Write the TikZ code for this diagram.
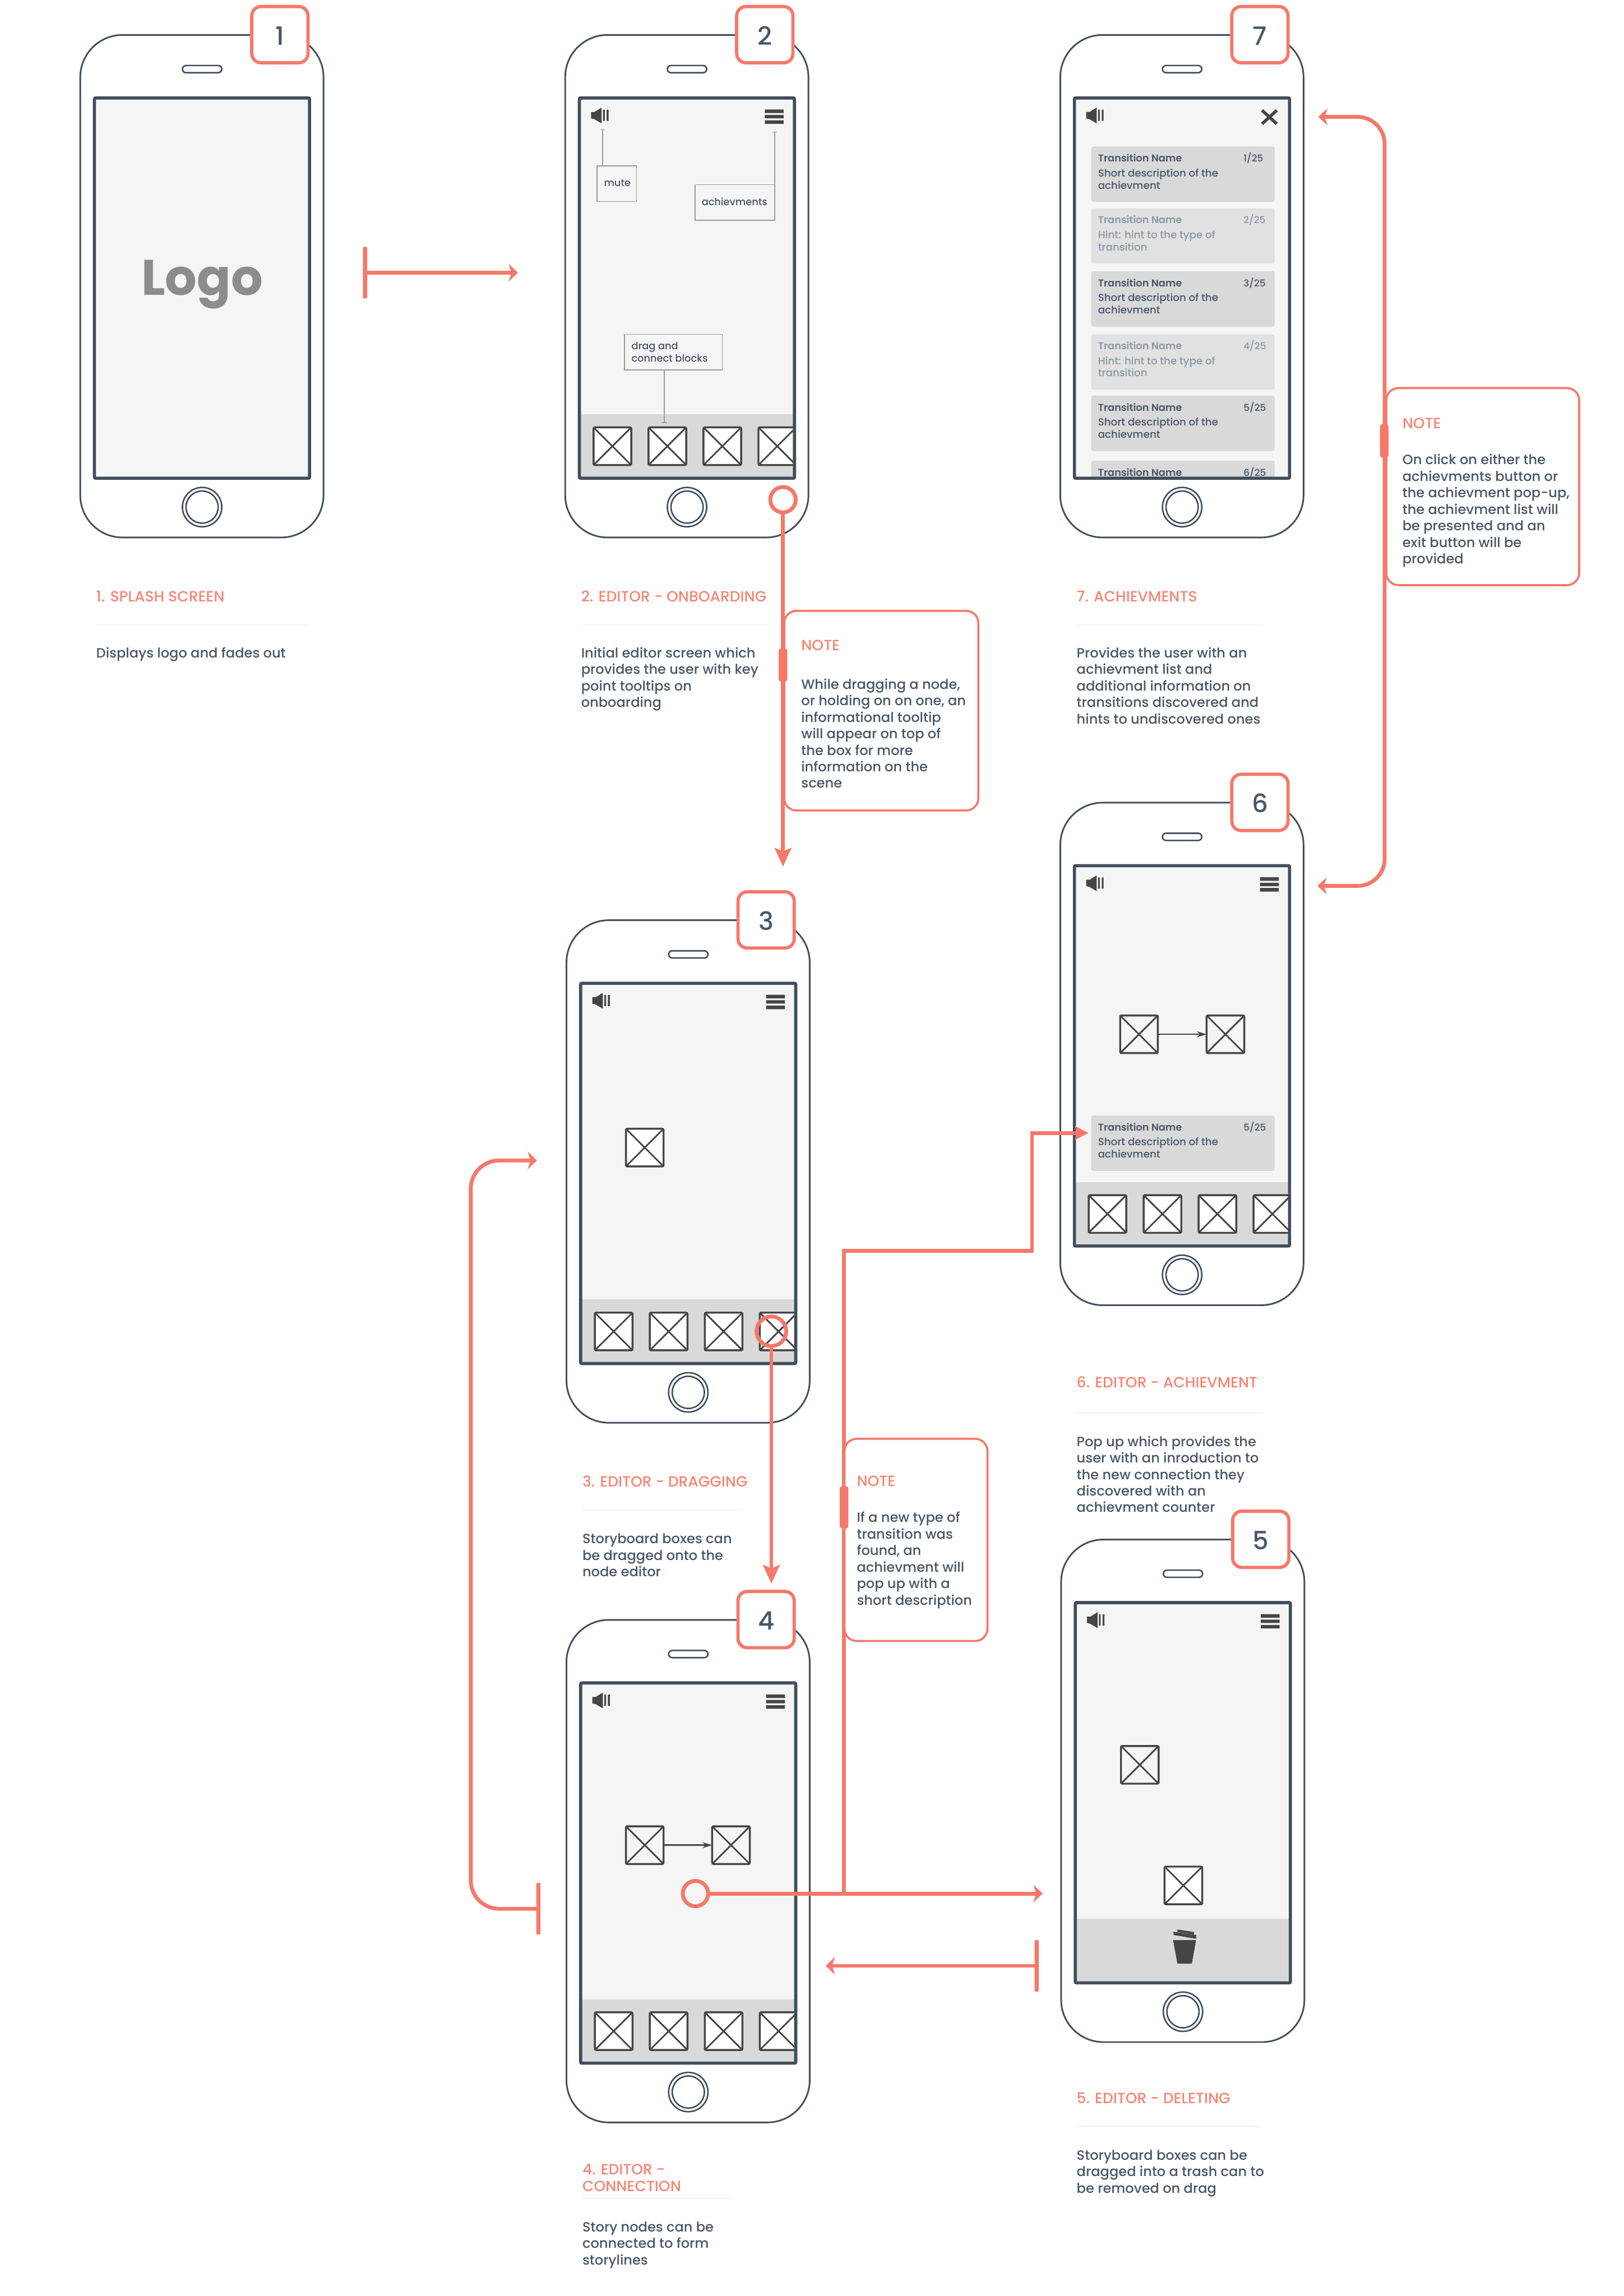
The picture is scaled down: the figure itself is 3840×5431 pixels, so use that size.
\documentclass[tikz,border=0pt]{standalone}
\usepackage{fontspec}
\setmainfont{Poppins Medium}[BoldFont={Poppins SemiBold}]
\newfontfamily\logofont{Poppins Bold}
\usetikzlibrary{arrows.meta, positioning, calc}
\definecolor{mSalmon}{HTML}{F6786A}
\definecolor{mTitle}{HTML}{F98472}
\definecolor{mSlate}{HTML}{424D5B}
\definecolor{mText}{HTML}{4A5666}
\definecolor{mHint}{HTML}{8D98A3}
\definecolor{mIcon}{HTML}{454545}
\definecolor{mScreen}{HTML}{F5F5F5}
\definecolor{mTray}{HTML}{D9D9D9}
\definecolor{mTrayLight}{HTML}{E1E1E1}
\definecolor{mRule}{HTML}{F1F5F9}
\definecolor{mLeader}{HTML}{9A9A9A}
\tikzset{
  phonebody/.style={draw=mSlate, line width=1.1pt, rounded corners=1cm, fill=white,
                    minimum width=5.75cm, minimum height=11.88cm, inner sep=0pt, outer sep=0pt},
  phonescreen/.style={fill=mScreen, minimum width=5.085cm, minimum height=8.99cm, inner sep=0pt, outer sep=0pt},
  phoneframe/.style={draw=mSlate, line width=2.1pt, rounded corners=0.03cm,
                     minimum width=5.085cm, minimum height=8.99cm, inner sep=0pt, outer sep=0pt},
  earpiece/.style={draw=mSlate, line width=1pt, rounded corners=0.085cm, minimum width=0.93cm,
                   minimum height=0.17cm, inner sep=0pt},
  homering/.style={draw=mSlate, line width=1pt, circle, inner sep=0pt},
  badge/.style={draw=mSalmon, line width=2.2pt, fill=white, rounded corners=0.22cm, minimum size=1.33cm,
                inner sep=0pt, text=mText, text height=13.8pt, text depth=0pt, font=\fontsize{17}{20}\selectfont},
  wirebox/.style={draw=mIcon, line width=1.3pt, rounded corners=0.03cm, minimum size=0.89cm,
                  inner sep=0pt, outer sep=0pt},
  wirecross/.style={draw=mIcon, line width=1.1pt},
  linkarrow/.style={mIcon, line width=1pt, -{Stealth[length=2.3mm, width=1.4mm]}},
  flow/.style={mSalmon, line width=2.6pt},
  bigtip/.style={-{Stealth[length=4.4mm, width=3.9mm, inset=0.8mm]}},
  smalltip/.style={-{Stealth[length=2.2mm, width=4.2mm, inset=0.7mm]}},
  midtip/.style={-{Stealth[length=3.2mm, width=3.2mm, inset=0.5mm]}},
  tbar/.style={fill=mSalmon, rounded corners=0.02cm, minimum width=0.1cm, inner sep=0pt, outer sep=0pt},
  hotspot/.style={draw=mSalmon, line width=2.6pt, circle, minimum size=0.6cm, inner sep=0pt, outer sep=0pt},
  notebox/.style={draw=mSalmon, line width=1.4pt, fill=white, rounded corners=0.29cm, inner sep=0pt, outer sep=0pt},
  notetab/.style={fill=mSalmon, rounded corners=0.05cm, minimum width=0.2cm, inner sep=0pt, outer sep=0pt},
  bodytxt/.style={anchor=north west, align=left, inner sep=0pt, text=mText,
                  font=\fontsize{9.1}{11.1}\selectfont},
  titletxt/.style={anchor=north west, align=left, inner sep=0pt, text=mTitle,
                   font=\fontsize{10}{11.1}\selectfont},
  rulerline/.style={mRule, line width=0.9pt},
  tipbox/.style={draw=mLeader, line width=0.6pt, fill=mScreen, inner sep=0pt, outer sep=0pt},
  tiptxt/.style={anchor=north west, align=left, inner sep=0pt, text=mText, font=\fontsize{6.7}{8.3}\selectfont},
  leader/.style={mLeader, line width=0.6pt, {Bar[width=1mm]}-},
  achrowdark/.style={fill=mTray, rounded corners=0.05cm, minimum width=4.335cm, minimum height=1.31cm,
                     inner sep=0pt, anchor=north west},
  achrowhint/.style={achrowdark, fill=mTrayLight},
  rowhead/.style={anchor=base west, inner sep=0pt, font=\fontsize{6.7}{7}\selectfont\bfseries},
  rowline/.style={anchor=base west, inner sep=0pt, font=\fontsize{6.9}{7}\selectfont},
  rownum/.style={anchor=base west, inner sep=0pt, font=\fontsize{6.4}{7}\selectfont},
}
% one phone: name, left, top, number, screen content
\newcommand{\phone}[5]{
  \begin{scope}[shift={(#2,#3)}]
    \node[phonebody] (#1body) at (287.5,594) {};
    \node[earpiece] (#1ear) at (288,80.5) {};
    \node[homering, minimum size=0.93cm] (#1home) at (288,1116.5) {};
    \node[homering, minimum size=0.76cm] (#1homein) at (288,1116.5) {};
    \node[phonescreen] (#1screen) at (287.75,598.5) {};
    \begin{scope}
      \clip (33.5,149) rectangle (542,1048);
      #5
    \end{scope}
    \node[phoneframe] (#1frame) at (287.75,598.5) {};
    \node[badge] (#1badge) at (472,-1) {#4};
  \end{scope}
}
\newcommand{\spkicon}{
  \fill[mIcon] (61,182) -- (69,182) -- (86,171.5) -- (86,209) -- (69,199) -- (61,197) -- cycle;
  \fill[mIcon] (89.3,176.5) rectangle (93.4,203) (97.8,176.5) rectangle (102.3,203);
}
\newcommand{\menuicon}{
  \fill[mIcon] (472,176) rectangle (516.6,184.5) (472,189) rectangle (516.6,197) (472,201.5) rectangle (516.6,210);
}
\newcommand{\imgbox}[4]{
  \node[wirebox, fill=#4] (#1) at (#2,#3) {};
  \draw[wirecross] (#1.north west) -- (#1.south east) (#1.north east) -- (#1.south west);
}
\newcommand{\boxtray}[1]{
  \fill[mTray] (33.5,897) rectangle (542,1048);
  \foreach \i in {0,1,2,3} {
    \imgbox{#1tray\i}{111.5+130*\i}{972.5}{white}
  }
}
\newcommand{\achrow}[7]{
  \node[achrow#3] (#1) at (72.5,#2) {};
  \node[rowhead, text=#4] (#1head) at ($(#1.north west)+(16,37)$) {Transition Name};
  \node[rownum, text=#4] (#1num) at ($(#1.north west)+(360,37)$) {#5};
  \node[rowline, text=#4] (#1la) at ($(#1.north west)+(16,72)$) {#6};
  \node[rowline, text=#4] (#1lb) at ($(#1.north west)+(16,101)$) {#7};
}
\newcommand{\screenlabel}[7]{
  \node[titletxt] (#1title) at (#2,#3+4) {\strut#6};
  \draw[rulerline] (#2,#4) -- (#5,#4);
  \node[bodytxt] (#1text) at (#2,#4+51) {\strut#7};
}
\begin{document}
\begin{tikzpicture}[x=0.01cm, y=-0.01cm]
  \useasboundingbox (0,0) rectangle (3840,5431);

  \phone{pa}{190}{83}{1}{
    \node[anchor=base, inner sep=0pt, text=black!45, font=\fontsize{33.6}{36}\logofont] (logo) at (288,615) {Logo};
  }
  \phone{pb}{1337}{83}{2}{
    \spkicon \menuicon \boxtray{pb}
    \node[tipbox, minimum width=0.93cm, minimum height=0.84cm] (mutebox) at (122,351.5) {};
    \node[tiptxt] (mutetxt) at (91,337) {\strut mute};
    \node[tipbox, minimum width=1.89cm, minimum height=0.84cm] (achbox) at (401.5,396) {};
    \node[tiptxt] (achtxt) at (322,382) {\strut achievments};
    \node[tipbox, minimum width=2.31cm, minimum height=0.84cm] (dragbox) at (256,750) {};
    \node[tiptxt] (dragtxt) at (156,723) {\strut drag and\\ connect blocks};
    \coordinate (mutetip) at (88.5,223);
    \coordinate (achtip) at (495.5,228);
    \coordinate (dragtip) at (234.5,918);
    \draw[leader] (mutetip) -- (mutetip |- mutebox.north);
    \draw[leader] (achtip) -- (achtip |- achbox.south);
    \draw[leader] (dragtip) -- (dragtip |- dragbox.south);
  }
  \phone{pc}{1340}{2177}{3}{
    \spkicon \menuicon \boxtray{pc}
    \imgbox{pcdrag}{185}{537.5}{white}
  }
  \phone{pd}{1340}{3832}{4}{
    \spkicon \menuicon \boxtray{pd}
    \imgbox{pdfrom}{185}{532.5}{mScreen}
    \imgbox{pdto}{389}{532.5}{mScreen}
    \draw[linkarrow] (pdfrom) -- (pdto);
  }
  \phone{pe}{2510}{3642}{5}{
    \spkicon \menuicon
    \fill[mTray] (33.5,896) rectangle (542,1048);
    \imgbox{pefree}{186}{532.5}{mScreen}
    \imgbox{pedrop}{289}{817.8}{white}
    \fill[mIcon] (264.5,947) -- (319,947) -- (309,1003) -- (275,1003) -- cycle;
    \fill[mIcon] (265.4,927.4) -- (319.5,935) -- (319,944) -- (266,935) -- cycle;
    \fill[mIcon] (275,922) -- (314,928) -- (314,934) -- (275,928) -- cycle;
  }
  \phone{pf}{2508}{1899}{6}{
    \spkicon \menuicon \boxtray{pf}
    \imgbox{pffrom}{186}{547.5}{mScreen}
    \imgbox{pfto}{390.5}{547.5}{mScreen}
    \draw[linkarrow] (pffrom) -- (pfto);
    \achrow{pfrow}{739}{dark}{mText}{5/25}{Short description of the}{achievment}
  }
  \phone{pg}{2508}{83}{7}{
    \spkicon
    \draw[mIcon, line width=2.1pt] (477,178) -- (512,210) (512,178) -- (477,210);
    \achrow{rowa}{263}{dark}{mText}{1/25}{Short description of the}{achievment}
    \achrow{rowb}{409}{hint}{mHint}{2/25}{Hint: hint to the type of}{transition}
    \achrow{rowc}{558}{dark}{mText}{3/25}{Short description of the}{achievment}
    \achrow{rowd}{707}{hint}{mHint}{4/25}{Hint: hint to the type of}{transition}
    \achrow{rowe}{852}{dark}{mText}{5/25}{Short description of the}{achievment}
    \achrow{rowf}{1006}{dark}{mText}{6/25}{Short description of the}{achievment}
  }

  \screenlabel{la}{227}{1391}{1477}{729}{1. SPLASH SCREEN}{Displays logo and fades out}
  \screenlabel{lb}{1374}{1391}{1477}{1812}{2. EDITOR - ONBOARDING}{Initial editor screen which\\ provides the user with key\\ point tooltips on\\ onboarding}
  \screenlabel{lc}{1377}{3485}{3572}{1756}{3. EDITOR - DRAGGING}{Storyboard boxes can\\ be dragged onto the\\ node editor}
  \screenlabel{ld}{1377}{5112}{5200}{1729}{4. EDITOR -\\ CONNECTION}{Story nodes can be\\ connected to form\\ storylines}
  \screenlabel{le}{2546}{4944}{5030}{2984}{5. EDITOR - DELETING}{Storyboard boxes can be\\ dragged into a trash can to\\ be removed on drag}
  \screenlabel{lf}{2546}{3250}{3342}{2985}{6. EDITOR - ACHIEVMENT}{Pop up which provides the\\ user with an inroduction to\\ the new connection they\\ discovered with an\\ achievment counter}
  \screenlabel{lg}{2546}{1391}{1477}{2985}{7. ACHIEVMENTS}{Provides the user with an\\ achievment list and\\ additional information on\\ transitions discovered and\\ hints to undiscovered ones}

  % splash to editor
  \node[tbar, minimum height=1.22cm] (barone) at (863.5,645) {};
  \coordinate (tipone) at (1225,645);
  \draw[flow, smalltip] (barone) -- (tipone);

  % editor to dragging
  \node[hotspot] (hotb) at (1852,1182) {};
  \coordinate (tipb) at (1852,2050);
  \draw[flow, bigtip] (hotb) -- (tipb);

  % dragging to connection
  \node[hotspot, minimum size=0.7cm] (hotc) at (1824.5,3149) {};
  \coordinate (tipc) at (1824.5,3746);
  \draw[flow, bigtip] (hotc) -- (tipc);

  % back from connection
  \node[tbar, minimum height=1.22cm] (bard) at (1273.5,4515) {};
  \coordinate (tipd) at (1270,2745);
  \coordinate (turnd) at (1113.5,3600);
  \draw[flow, smalltip, rounded corners=0.67cm] (bard) -- (bard -| turnd) -- (turnd |- tipd) -- (tipd);

  % connection to deleting, and the branch to the pop up
  \node[hotspot] (hotd) at (1645,4479) {};
  \coordinate (tipe) at (2466,4479);
  \draw[flow, smalltip] (hotd) -- (tipe);
  \coordinate (forkf) at (1996.5,4479);
  \coordinate (kneef) at (2441,2959);
  \coordinate (tipf) at (2574.5,2680);
  \draw[flow, midtip] (forkf) -- (forkf |- kneef) -- (kneef) -- (kneef |- tipf) -- (tipf);

  % deleting back to connection
  \node[tbar, minimum height=1.22cm] (bare) at (2452,4650) {};
  \coordinate (tipg) at (1953,4650);
  \draw[flow, smalltip] (bare) -- (tipg);

  % pop up and achievements
  \coordinate (tiph) at (3118,276.5);
  \coordinate (tipi) at (3116,2095.5);
  \coordinate (turnh) at (3275,1200);
  \draw[flow, {Stealth[length=2.2mm, width=4mm, inset=0.7mm]}-{Stealth[length=2.2mm, width=4mm, inset=0.7mm]}, rounded corners=0.64cm]
    (tiph) -- (tiph -| turnh) -- (turnh |- tipi) -- (tipi);

  % notes
  \node[notebox, minimum width=4.59cm, minimum height=4.72cm] (notea) at (2084.5,1681) {};
  \node[notetab, minimum height=0.78cm] (notetaba) at (1852,1573) {};
  \node[titletxt] (noteatitle) at (1894.5,1511) {\strut NOTE};
  \node[bodytxt] (noteatext) at (1894.5,1602) {\strut While dragging a node,\\ or holding on on one, an\\ informational tooltip\\ will appear on top of\\ the box for more\\ information on the\\ scene};

  \node[notebox, minimum width=3.38cm, minimum height=4.78cm] (noteb) at (2166.5,3642.5) {};
  \node[notetab, minimum height=1cm] (notetabb) at (1996.5,3565.5) {};
  \node[titletxt] (notebtitle) at (2026,3487) {\strut NOTE};
  \node[bodytxt] (notebtext) at (2026,3573) {\strut If a new type of\\ transition was\\ found, an\\ achievment will\\ pop up with a\\ short description};

  \node[notebox, minimum width=4.56cm, minimum height=4.66cm] (notec) at (3507,1151) {};
  \node[notetab, minimum height=0.79cm] (notetabc) at (3274,1043) {};
  \node[titletxt] (notectitle) at (3316.5,985) {\strut NOTE};
  \node[bodytxt] (notectext) at (3316.5,1071) {\strut On click on either the\\ achievments button or\\ the achievment pop-up,\\ the achievment list will\\ be presented and an\\ exit button will be\\ provided};
\end{tikzpicture}
\end{document}
